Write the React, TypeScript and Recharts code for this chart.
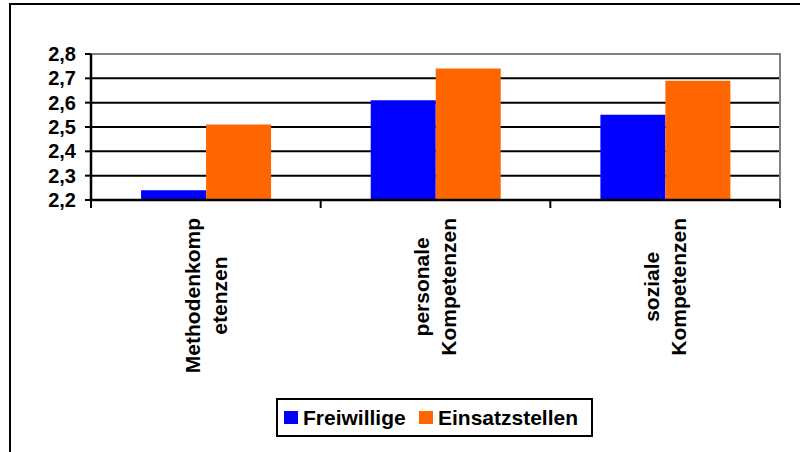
import React from "react";
import { BarChart, Bar, XAxis, YAxis, CartesianGrid, ReferenceArea, Legend } from "recharts";

const categories = ["Methodenkompetenzen", "personale Kompetenzen", "soziale Kompetenzen"];
const categoryLines = [
  ["Methodenkomp", "etenzen"],
  ["personale", "Kompetenzen"],
  ["soziale", "Kompetenzen"],
];
const freiwillige = [2.24, 2.61, 2.55];
const einsatzstellen = [2.51, 2.74, 2.69];
const yTicks = [2.2, 2.3, 2.4, 2.5, 2.6, 2.7, 2.8];
const seriesNames = ["Freiwillige", "Einsatzstellen"];
const seriesColors = ["#0000FF", "#FF6600"];

const data = categories.map((c, i) => ({
  name: c,
  Freiwillige: freiwillige[i],
  Einsatzstellen: einsatzstellen[i],
}));

const FONT = "'Liberation Sans', Arial, Helvetica, sans-serif";
const LABEL_SIZE = 21;

let ctx: CanvasRenderingContext2D | null = null;
function measure(text: string): number {
  try {
    if (!ctx) {
      const c = document.createElement("canvas");
      ctx = c.getContext("2d");
    }
    if (ctx) {
      ctx.font = `bold ${LABEL_SIZE}px ${FONT}`;
      return ctx.measureText(text).width;
    }
  } catch (e) {}
  return text.length * LABEL_SIZE * 0.6;
}

const XTick = (props: any) => {
  const { x, y, payload, index } = props;
  const half = payload && payload.offset ? payload.offset : 689 / 6;
  const lines = categoryLines[index] || [String(payload.value)];
  const maxLen = Math.max(...lines.map(measure));
  const cy = y + 18 + maxLen / 2;
  const lineH = 27;
  return (
    <g>
      <line x1={x - half} x2={x - half} y1={y} y2={y + 8} stroke="#000" strokeWidth={2} />
      {index === categories.length - 1 && (
        <line x1={x + half} x2={x + half} y1={y} y2={y + 8} stroke="#000" strokeWidth={2} />
      )}
      {lines.map((ln: string, j: number) => {
        const lx = x + (j - (lines.length - 1) / 2) * lineH;
        return (
          <text
            key={j}
            x={lx}
            y={cy}
            transform={`rotate(-90, ${lx}, ${cy})`}
            textAnchor="middle"
            dominantBaseline="central"
            fontFamily={FONT}
            fontWeight="bold"
            fontSize={LABEL_SIZE}
            fill="#000"
          >
            {ln}
          </text>
        );
      })}
    </g>
  );
};

const LegendBox = () => (
  <div
    style={{
      position: "relative",
      width: 317,
      height: 39,
      border: "2px solid #000",
      boxSizing: "border-box",
      background: "#fff",
      fontFamily: FONT,
      fontWeight: "bold",
      fontSize: 21,
      color: "#000",
    }}
  >
    {seriesNames.map((n, i) => (
      <div
        key={n}
        style={{
          position: "absolute",
          left: i === 0 ? 6 : 141,
          top: 0,
          height: 35,
          display: "flex",
          alignItems: "center",
          whiteSpace: "nowrap",
        }}
      >
        <span
          style={{
            display: "inline-block",
            width: 14,
            height: 13,
            background: seriesColors[i],
            marginRight: 5,
          }}
        />
        <span style={{ lineHeight: "21px" }}>{n}</span>
      </div>
    ))}
  </div>
);

export default function App() {
  return (
    <div
      style={{
        position: "absolute",
        left: 0,
        top: 0,
        width: 800,
        height: 452,
        overflow: "hidden",
        background: "#fff",
      }}
    >
      <div
        style={{
          position: "absolute",
          left: 9,
          top: 3,
          width: 900,
          height: 600,
          borderLeft: "2.5px solid #000",
          borderTop: "2.5px solid #000",
        }}
      />
      <div style={{ position: "absolute", left: 0, top: 0 }}>
        <BarChart
          width={800}
          height={452}
          data={data}
          margin={{ top: 54, right: 20, left: 0, bottom: 0 }}
          barCategoryGap="21.8%"
          barGap={0}
        >
          <CartesianGrid vertical={false} stroke="#000" strokeWidth={2} />
          <ReferenceArea y1={2.2} y2={2.8} fill="none" stroke="#808080" strokeWidth={2} ifOverflow="visible" />
          <Bar dataKey="Freiwillige" fill={seriesColors[0]} isAnimationActive={false} />
          <Bar dataKey="Einsatzstellen" fill={seriesColors[1]} isAnimationActive={false} />
          <XAxis
            dataKey="name"
            interval={0}
            tickLine={false}
            tickSize={0}
            tickMargin={0}
            axisLine={{ stroke: "#000", strokeWidth: 2.5 }}
            tick={<XTick />}
            height={252}
          />
          <YAxis
            domain={[2.2, 2.8]}
            ticks={yTicks}
            interval={0}
            width={91}
            tickSize={6}
            tickMargin={9}
            tickLine={{ stroke: "#000", strokeWidth: 2 }}
            axisLine={{ stroke: "#000", strokeWidth: 2.5 }}
            tickFormatter={(v: number) => v.toFixed(1).replace(".", ",")}
            tick={{ fontFamily: FONT, fontWeight: "bold", fontSize: 20, fill: "#000" }}
          />
          <Legend
            verticalAlign="middle"
            align="center"
            content={<LegendBox />}
            wrapperStyle={{ position: "absolute", left: 276, top: 398, width: 317, height: 39 }}
          />
        </BarChart>
      </div>
    </div>
  );
}
